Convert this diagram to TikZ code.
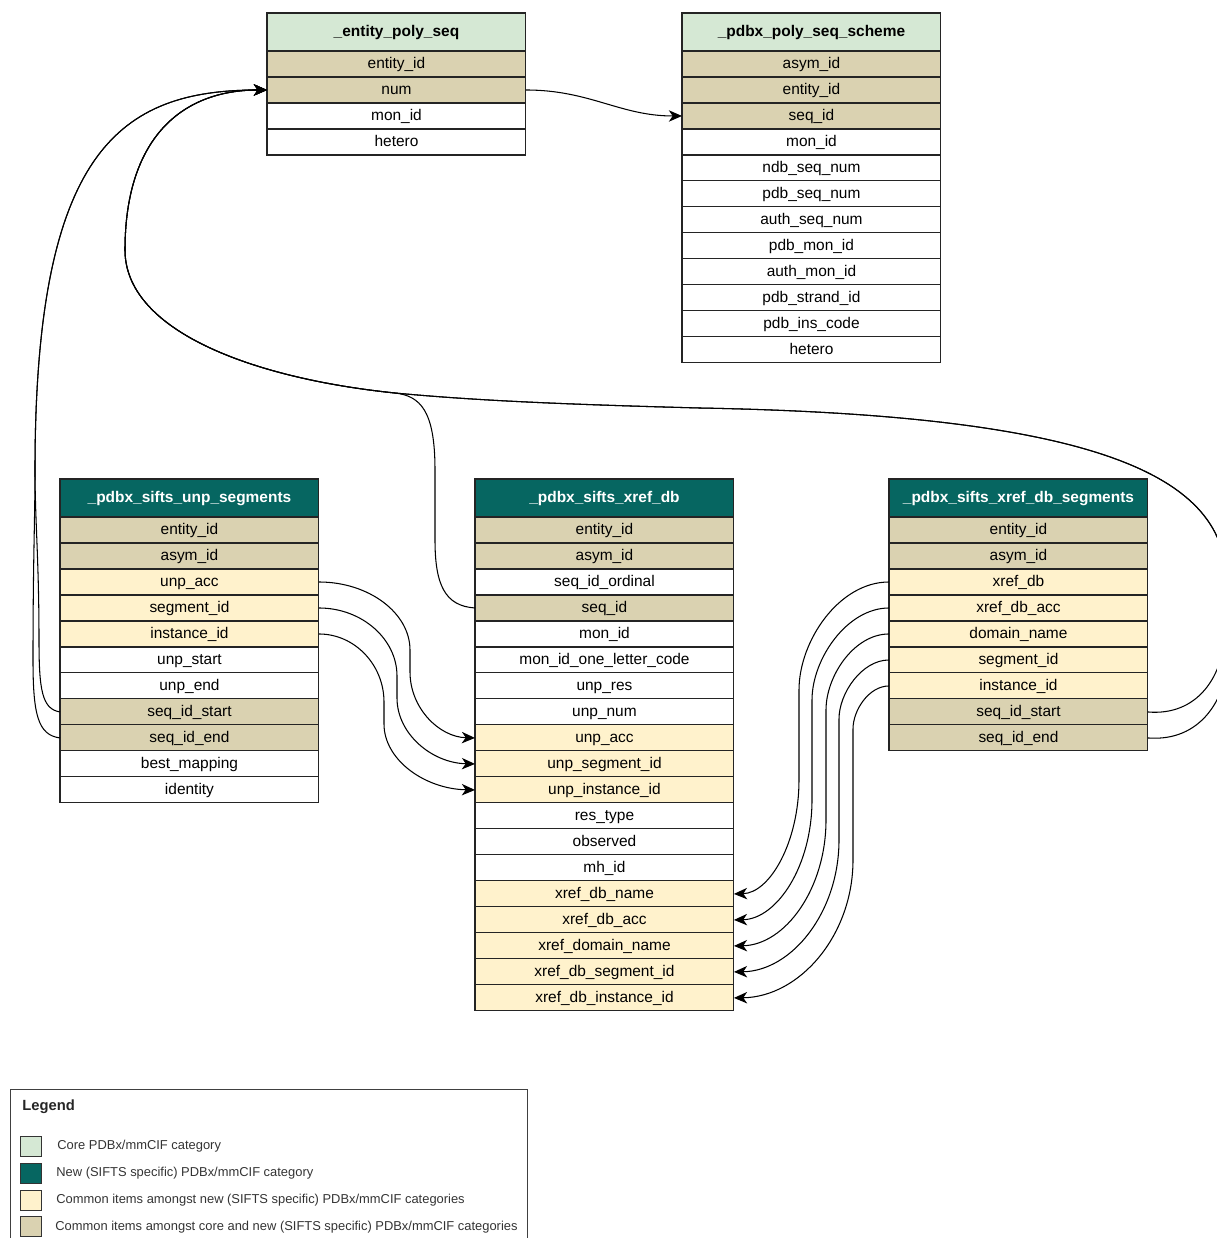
\documentclass[tikz,border=0pt]{standalone}
\usepackage{fontspec}
\setmainfont{Liberation Sans}
\usepackage{xcolor}
\usepackage{tikz}
\usetikzlibrary{arrows.meta,positioning}
\definecolor{coregreen}{RGB}{213,232,212}
\definecolor{siftsteal}{RGB}{6,102,97}
\definecolor{commonnew}{RGB}{255,242,204}
\definecolor{commoncore}{RGB}{218,210,177}
\definecolor{tabline}{RGB}{36,36,36}

\begin{document}
\begin{tikzpicture}[x=0.02cm, y=-0.02cm,
  tabhead/.style={rectangle, draw=tabline, fill=#1, line width=0.6pt,
                  outer sep=0pt, inner sep=0pt, minimum width=5.18cm,
                  minimum height=0.76cm, text height=6.4pt, text depth=0.8pt,
                  font=\fontsize{8.8}{10.5}\selectfont\bfseries},
  corehead/.style={tabhead=coregreen, text=black},
  newhead/.style={tabhead=siftsteal, text=white},
  tabrow/.style={rectangle, draw=tabline, fill=#1, line width=0.6pt,
                 outer sep=0pt, inner sep=0pt, minimum width=5.18cm,
                 minimum height=0.52cm, text height=6.4pt, text depth=1.4pt,
                 font=\fontsize{8.8}{10.5}\selectfont},
  tabrow/.default=white,
  keyrow/.style={tabrow=commoncore},
  newrow/.style={tabrow=commonnew},
  link/.style={-{Stealth[length=7.5pt,width=6.5pt,inset=2.2pt]}, line width=0.6pt},
  swatch/.style={rectangle, draw=black!80, fill=#1, line width=0.6pt,
                 minimum width=0.42cm, minimum height=0.4cm, inner sep=0pt},
  legtext/.style={inner sep=0pt, text=black!80, font=\fontsize{7.35}{8.5}\selectfont}
]
  \clip (0,0) rectangle (1217,1238);

  % core categories
  \node[corehead, anchor=north west] (eps) at (267,13) {\_entity\_poly\_seq};
  \node[keyrow, below=0pt of eps]        (eps-entity) {entity\_id};
  \node[keyrow, below=0pt of eps-entity] (eps-num)    {num};
  \node[tabrow, below=0pt of eps-num]    (eps-mon)    {mon\_id};
  \node[tabrow, below=0pt of eps-mon]    (eps-het)    {hetero};

  \node[corehead, anchor=north west] (pss) at (682,13) {\_pdbx\_poly\_seq\_scheme};
  \node[keyrow, below=0pt of pss]         (pss-asym)   {asym\_id};
  \node[keyrow, below=0pt of pss-asym]    (pss-entity) {entity\_id};
  \node[keyrow, below=0pt of pss-entity]  (pss-seq)    {seq\_id};
  \node[tabrow, below=0pt of pss-seq]     (pss-mon)    {mon\_id};
  \node[tabrow, below=0pt of pss-mon]     (pss-ndb)    {ndb\_seq\_num};
  \node[tabrow, below=0pt of pss-ndb]     (pss-pdb)    {pdb\_seq\_num};
  \node[tabrow, below=0pt of pss-pdb]     (pss-auth)   {auth\_seq\_num};
  \node[tabrow, below=0pt of pss-auth]    (pss-pmon)   {pdb\_mon\_id};
  \node[tabrow, below=0pt of pss-pmon]    (pss-amon)   {auth\_mon\_id};
  \node[tabrow, below=0pt of pss-amon]    (pss-strand) {pdb\_strand\_id};
  \node[tabrow, below=0pt of pss-strand]  (pss-ins)    {pdb\_ins\_code};
  \node[tabrow, below=0pt of pss-ins]     (pss-het)    {hetero};

  % new SIFTS categories
  \node[newhead, anchor=north west] (unp) at (60,479) {\_pdbx\_sifts\_unp\_segments};
  \node[keyrow, below=0pt of unp]         (unp-entity) {entity\_id};
  \node[keyrow, below=0pt of unp-entity]  (unp-asym)   {asym\_id};
  \node[newrow, below=0pt of unp-asym]    (unp-acc)    {unp\_acc};
  \node[newrow, below=0pt of unp-acc]     (unp-seg)    {segment\_id};
  \node[newrow, below=0pt of unp-seg]     (unp-inst)   {instance\_id};
  \node[tabrow, below=0pt of unp-inst]    (unp-start)  {unp\_start};
  \node[tabrow, below=0pt of unp-start]   (unp-end)    {unp\_end};
  \node[keyrow, below=0pt of unp-end]     (unp-sstart) {seq\_id\_start};
  \node[keyrow, below=0pt of unp-sstart]  (unp-send)   {seq\_id\_end};
  \node[tabrow, below=0pt of unp-send]    (unp-best)   {best\_mapping};
  \node[tabrow, below=0pt of unp-best]    (unp-ident)  {identity};

  \node[newhead, anchor=north west] (xr) at (475,479) {\_pdbx\_sifts\_xref\_db};
  \node[keyrow, below=0pt of xr]          (xr-entity)  {entity\_id};
  \node[keyrow, below=0pt of xr-entity]   (xr-asym)    {asym\_id};
  \node[tabrow, below=0pt of xr-asym]     (xr-ord)     {seq\_id\_ordinal};
  \node[keyrow, below=0pt of xr-ord]      (xr-seq)     {seq\_id};
  \node[tabrow, below=0pt of xr-seq]      (xr-mon)     {mon\_id};
  \node[tabrow, below=0pt of xr-mon]      (xr-one)     {mon\_id\_one\_letter\_code};
  \node[tabrow, below=0pt of xr-one]      (xr-res)     {unp\_res};
  \node[tabrow, below=0pt of xr-res]      (xr-num)     {unp\_num};
  \node[newrow, below=0pt of xr-num]      (xr-acc)     {unp\_acc};
  \node[newrow, below=0pt of xr-acc]      (xr-useg)    {unp\_segment\_id};
  \node[newrow, below=0pt of xr-useg]     (xr-uinst)   {unp\_instance\_id};
  \node[tabrow, below=0pt of xr-uinst]    (xr-type)    {res\_type};
  \node[tabrow, below=0pt of xr-type]     (xr-obs)     {observed};
  \node[tabrow, below=0pt of xr-obs]      (xr-mh)      {mh\_id};
  \node[newrow, below=0pt of xr-mh]       (xr-dbname)  {xref\_db\_name};
  \node[newrow, below=0pt of xr-dbname]   (xr-dbacc)   {xref\_db\_acc};
  \node[newrow, below=0pt of xr-dbacc]    (xr-dom)     {xref\_domain\_name};
  \node[newrow, below=0pt of xr-dom]      (xr-dbseg)   {xref\_db\_segment\_id};
  \node[newrow, below=0pt of xr-dbseg]    (xr-dbinst)  {xref\_db\_instance\_id};

  \node[newhead, anchor=north west] (xrs) at (889,479) {\_pdbx\_sifts\_xref\_db\_segments};
  \node[keyrow, below=0pt of xrs]         (xrs-entity) {entity\_id};
  \node[keyrow, below=0pt of xrs-entity]  (xrs-asym)   {asym\_id};
  \node[newrow, below=0pt of xrs-asym]    (xrs-db)     {xref\_db};
  \node[newrow, below=0pt of xrs-db]      (xrs-acc)    {xref\_db\_acc};
  \node[newrow, below=0pt of xrs-acc]     (xrs-dom)    {domain\_name};
  \node[newrow, below=0pt of xrs-dom]     (xrs-seg)    {segment\_id};
  \node[newrow, below=0pt of xrs-seg]     (xrs-inst)   {instance\_id};
  \node[keyrow, below=0pt of xrs-inst]    (xrs-sstart) {seq\_id\_start};
  \node[keyrow, below=0pt of xrs-sstart]  (xrs-send)   {seq\_id\_end};

  % links between core categories
  \draw[link] (eps-num.east) .. controls (590,90) and (620,116) .. (pss-seq.west);

  % links back to _entity_poly_seq.num
  \draw[link] (unp-sstart.west) .. controls (42,709) and (39,690) .. (39,640)
    .. controls (39,560) and (35,520) .. (35,470)
    .. controls (35,150) and (120,90) .. (eps-num.west);
  \draw[link] (unp-send.west) .. controls (38,735) and (33,715) .. (33,660)
    .. controls (33,560) and (35,520) .. (35,470)
    .. controls (35,150) and (120,90) .. (eps-num.west);
  \draw[link] (xr-seq.west) .. controls (445,606) and (435,585) .. (435,540) -- (435,470)
    .. controls (435,410) and (420,396) .. (395,393)
    .. controls (250,378) and (125,330) .. (125,250)
    .. controls (125,140) and (180,90) .. (eps-num.west);
  \draw[link] (xrs-sstart.east) .. controls (1195,716) and (1226,680) .. (1226,620) -- (1226,580)
    .. controls (1226,470) and (1080,415) .. (700,408)
    .. controls (550,404) and (470,400) .. (395,393)
    .. controls (250,378) and (125,330) .. (125,250)
    .. controls (125,140) and (180,90) .. (eps-num.west);
  \draw[link] (xrs-send.east) .. controls (1200,742) and (1230,700) .. (1230,640)
    .. controls (1230,610) and (1226,600) .. (1226,580)
    .. controls (1226,470) and (1080,415) .. (700,408)
    .. controls (550,404) and (470,400) .. (395,393)
    .. controls (250,378) and (125,330) .. (125,250)
    .. controls (125,140) and (180,90) .. (eps-num.west);

  % unp segments -> xref_db
  \draw[link] (unp-acc.east) .. controls (369,582) and (410,613) .. (410,650) -- (410,672)
    .. controls (410,708) and (439,737) .. (xr-acc.west);
  \draw[link] (unp-seg.east) .. controls (362,608) and (397,639) .. (397,676) -- (397,698)
    .. controls (397,734) and (432,763) .. (xr-useg.west);
  \draw[link] (unp-inst.east) .. controls (355,634) and (384,665) .. (384,702) -- (384,724)
    .. controls (384,760) and (425,789) .. (xr-uinst.west);

  % xref_db segments -> xref_db
  \draw[link] (xrs-db.west) .. controls (839,582) and (799,641) .. (799,690) -- (799,780)
    .. controls (799,842) and (770,893) .. (xr-dbname.east);
  \draw[link] (xrs-acc.west) .. controls (847,608) and (812,659) .. (812,700) -- (812,800)
    .. controls (812,866) and (777,919) .. (xr-dbacc.east);
  \draw[link] (xrs-dom.west) .. controls (854,634) and (826,676) .. (826,710) -- (826,820)
    .. controls (826,889) and (785,945) .. (xr-dom.east);
  \draw[link] (xrs-seg.west) .. controls (862,660) and (839,693) .. (839,719) -- (839,840)
    .. controls (839,912) and (792,971) .. (xr-dbseg.east);
  \draw[link] (xrs-inst.west) .. controls (869,686) and (853,710) .. (853,729) -- (853,860)
    .. controls (853,935) and (800,997) .. (xr-dbinst.east);

  % legend
  \node[draw=black!75, line width=0.6pt, anchor=north west, minimum width=10.34cm,
        minimum height=4cm] (legend) at (10,1089) {};
  \node[legtext, anchor=west, text=black!85, font=\fontsize{8.4}{10}\selectfont\bfseries]
    (legend-title) at (22,1107) {Legend};
  \node[swatch=coregreen, anchor=north west] (sw-core) at (20,1136) {};
  \node[swatch=siftsteal, below=0.12cm of sw-core] (sw-new) {};
  \node[swatch=commonnew, below=0.12cm of sw-new] (sw-cnew) {};
  \node[swatch=commoncore, below=0.1cm of sw-cnew] (sw-ccore) {};
  \node[legtext, right=0.3cm of sw-core]  (lt-core)  {Core PDBx/mmCIF category};
  \node[legtext, right=0.28cm of sw-new]  (lt-new)   {New (SIFTS specific) PDBx/mmCIF category};
  \node[legtext, right=0.28cm of sw-cnew] (lt-cnew)  {Common items amongst new (SIFTS specific) PDBx/mmCIF categories};
  \node[legtext, right=0.26cm of sw-ccore](lt-ccore) {Common items amongst core and new (SIFTS specific) PDBx/mmCIF categories};
\end{tikzpicture}
\end{document}
